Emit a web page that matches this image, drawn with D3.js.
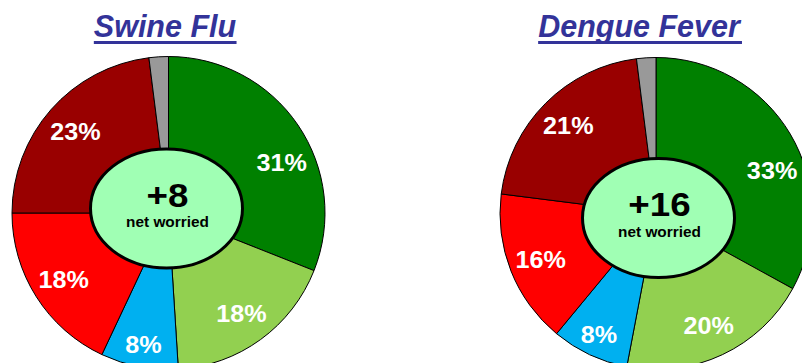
<!DOCTYPE html>
<html>
<head>
<meta charset="utf-8">
<script src="https://cdn.jsdelivr.net/npm/d3@7"></script>
<style>
  html, body { margin: 0; padding: 0; background: #fff; }
  svg { display: block; }
  text { font-family: "Liberation Sans", Arial, sans-serif; font-weight: bold; }
</style>
</head>
<body>
<svg id="chart" width="802" height="363"></svg>
<script>
// Survey responses: how worried people are about each disease (percent)
const diseases = ["Swine Flu", "Dengue Fever"];
const categories = ["Very worried", "Fairly worried", "Neither", "Not very worried", "Not at all worried", "Don't know"];
const swineFluValues = [31, 18, 8, 18, 23, 2];
const dengueFeverValues = [33, 20, 8, 16, 21, 2];
const seriesValues = [swineFluValues, dengueFeverValues];

// Which categories count toward "worried" and "not worried"
const worriedIdx = [0, 1];
const notWorriedIdx = [3, 4];

// Styling
const sliceColors = ["#008000", "#92D050", "#00B0F0", "#FF0000", "#990000", "#999999"];
const titleColor = "#333399";
const hubFill = "#A0FFB4";

// Layout of each pie panel
const panels = [
  { cx: 168.5, cy: 213, r: 156.5, titleX: 165, hubDx: -2, hubDy: -4.5 },
  { cx: 656, cy: 213.5, r: 156, titleX: 639, hubDx: 2.5, hubDy: 4.5 }
];
const hubRx = 76, hubRy = 59.5;
const labelRadius = 124;
// the largest slice's label sits a little further round, clear of the hub
const firstLabelShift = 10 * Math.PI / 180;
const textStretch = 1.05;

const svg = d3.select("#chart");

const pie = d3.pie().sort(null).value(d => d).startAngle(0).endAngle(2 * Math.PI);
const arc = d3.arc().innerRadius(0);

function polar(angle, radius) {
  return [radius * Math.sin(angle), -radius * Math.cos(angle)];
}

diseases.forEach((name, i) => {
  const p = panels[i];
  const values = seriesValues[i];
  const arcs = pie(values);

  // Title with underline
  const titleText = svg.append("text")
    .attr("x", p.titleX)
    .attr("y", 37)
    .attr("text-anchor", "middle")
    .attr("font-size", 30.5)
    .attr("font-style", "italic")
    .attr("fill", titleColor)
    .text(name);
  const bb = titleText.node().getBBox();
  svg.append("rect")
    .attr("x", bb.x)
    .attr("y", 41)
    .attr("width", bb.width)
    .attr("height", 3)
    .attr("fill", titleColor);

  const g = svg.append("g").attr("transform", `translate(${p.cx},${p.cy})`);

  g.selectAll("path.slice")
    .data(arcs)
    .join("path")
    .attr("class", "slice")
    .attr("d", d => arc.outerRadius(p.r)(d))
    .attr("fill", (d, k) => sliceColors[k])
    .attr("stroke", "#000")
    .attr("stroke-width", 1)
    .attr("stroke-linejoin", "round");

  // Percent labels (skip the tiny "don't know" slice)
  g.selectAll("text.pct")
    .data(arcs.filter((d, k) => k < values.length - 1))
    .join("text")
    .attr("class", "pct")
    .attr("transform", (d, k) => {
      const mid = (d.startAngle + d.endAngle) / 2 + (k === 0 ? firstLabelShift : 0);
      const rr = d.value < 10 ? labelRadius + 10 : labelRadius;
      const [x, y] = polar(mid, rr);
      return `translate(${x},${y}) scale(${textStretch},1)`;
    })
    .attr("text-anchor", "middle")
    .attr("dy", "0.36em")
    .attr("font-size", 24)
    .attr("fill", "#fff")
    .text(d => d.value + "%");

  // Central hub with the net worried figure
  const net = d3.sum(worriedIdx, k => values[k]) - d3.sum(notWorriedIdx, k => values[k]);
  const hub = g.append("g").attr("transform", `translate(${p.hubDx},${p.hubDy})`);
  hub.append("ellipse")
    .attr("rx", hubRx)
    .attr("ry", hubRy)
    .attr("fill", hubFill)
    .attr("stroke", "#000")
    .attr("stroke-width", 3);
  hub.append("text")
    .attr("transform", `translate(1,-2) scale(1.08,1)`)
    .attr("text-anchor", "middle")
    .attr("font-size", 34)
    .attr("fill", "#000")
    .text((net > 0 ? "+" : "") + net);
  hub.append("text")
    .attr("transform", `translate(1,18.5) scale(1.06,1)`)
    .attr("text-anchor", "middle")
    .attr("font-size", 14.5)
    .attr("fill", "#000")
    .text("net worried");
});
</script>
</body>
</html>
